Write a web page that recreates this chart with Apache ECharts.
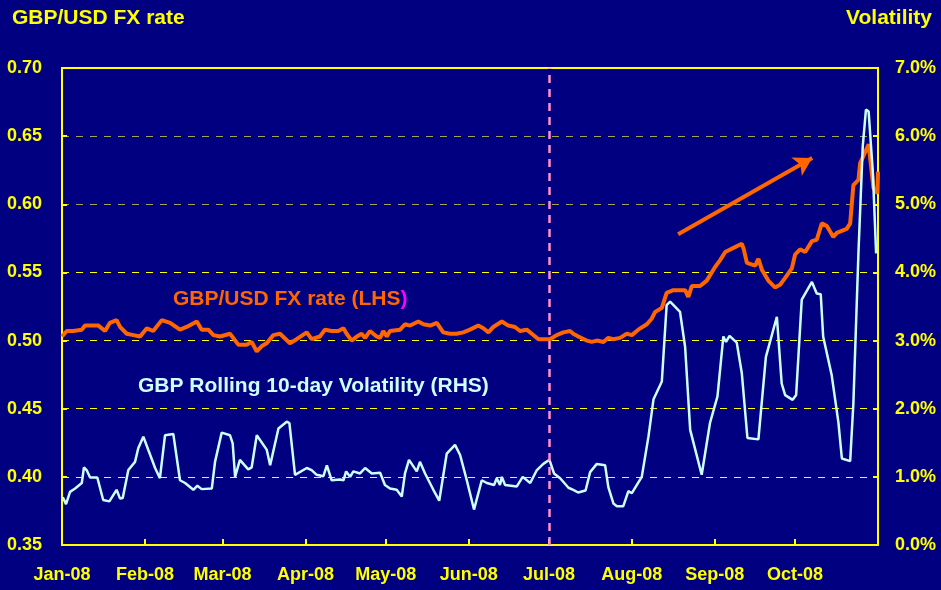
<!DOCTYPE html>
<html>
<head>
<meta charset="utf-8">
<script src="https://cdn.jsdelivr.net/npm/echarts@6.0.0/dist/echarts.min.js"></script>
<style>
html,body{margin:0;padding:0;background:#000080;}
#fxChart{width:941px;height:590px;}
</style>
</head>
<body>
<div id="fxChart"></div>
<script>
// x values are days counted from 1 Jan 2008
var monthStart = [0, 31, 60, 91, 121, 152, 182, 213, 244, 274];
var monthLabels = ['Jan-08', 'Feb-08', 'Mar-08', 'Apr-08', 'May-08', 'Jun-08', 'Jul-08', 'Aug-08', 'Sep-08', 'Oct-08'];

// GBP/USD FX rate (LHS)
var fxDay = [0, 1.8, 4.2, 7.4, 8.6, 11.7, 13.6, 16.1, 17.9, 20.4, 21.7, 24.2, 26.7, 29.2, 31.7, 34.1, 37.3, 40.4, 44.1, 46.6,
  50.4, 52.2, 54.7, 56.6, 59.1, 62.8, 65.9, 69.0, 70.9, 72.8, 74.7, 76.5, 79.0, 81.5, 85.2, 87.7, 91.5, 93.3, 96.4, 98.3,
  100.8, 103.3, 105.2, 106.4, 108.3, 110.2, 112.0, 113.3, 115.1, 117.6, 118.9, 120.1, 121.4, 122.6, 126.4, 128.2, 130.1, 133.2, 135.1, 137.6,
  140.1, 142.5, 145.0, 147.5, 150.0, 152.5, 155.6, 157.5, 159.4, 161.2, 164.4, 166.8, 169.3, 171.2, 173.7, 175.6, 178.1, 179.9, 182.4, 184.9,
  187.4, 189.9, 191.1, 193.0, 196.1, 198.0, 199.9, 202.4, 204.2, 206.1, 208.6, 211.1, 213.0, 215.4, 218.6, 220.4, 221.7, 224.2, 226.0, 228.5,
  232.9, 234.1, 235.4, 238.5, 241.0, 244.1, 246.0, 247.9, 251.0, 254.1, 254.7, 256.0, 259.1, 260.3, 261.6, 264.0, 266.5, 268.4, 270.3, 272.8,
  274.0, 275.9, 277.8, 280.3, 282.1, 284.0, 285.9, 288.3, 289.6, 293.3, 294.6, 295.8, 297.7, 298.3, 301.5, 303.3, 304.8, 305];
var fxRate = [0.503, 0.507, 0.507, 0.508, 0.511, 0.511, 0.511, 0.507, 0.513, 0.515, 0.510, 0.505, 0.504, 0.503, 0.509, 0.507, 0.515, 0.513, 0.508, 0.510,
  0.514, 0.508, 0.508, 0.504, 0.503, 0.505, 0.497, 0.497, 0.499, 0.492, 0.496, 0.498, 0.504, 0.505, 0.498, 0.501, 0.506, 0.501, 0.503, 0.508,
  0.507, 0.507, 0.509, 0.505, 0.500, 0.503, 0.505, 0.502, 0.507, 0.503, 0.502, 0.507, 0.503, 0.507, 0.508, 0.512, 0.511, 0.514, 0.512, 0.511,
  0.513, 0.506, 0.505, 0.505, 0.506, 0.508, 0.511, 0.509, 0.506, 0.510, 0.514, 0.511, 0.510, 0.507, 0.508, 0.505, 0.501, 0.501, 0.501, 0.504,
  0.506, 0.507, 0.505, 0.503, 0.500, 0.499, 0.500, 0.499, 0.502, 0.501, 0.502, 0.505, 0.504, 0.508, 0.512, 0.516, 0.521, 0.524, 0.535, 0.537,
  0.537, 0.532, 0.540, 0.540, 0.544, 0.554, 0.559, 0.565, 0.568, 0.571, 0.568, 0.557, 0.555, 0.560, 0.552, 0.544, 0.539, 0.541, 0.546, 0.553,
  0.563, 0.567, 0.565, 0.573, 0.574, 0.586, 0.584, 0.576, 0.579, 0.582, 0.586, 0.614, 0.618, 0.630, 0.644, 0.612, 0.608, 0.624];

// GBP rolling 10-day volatility, % (RHS)
var volDay = [0.3, 1.5, 3.0, 4.9, 7.4, 8.2, 9.2, 10.5, 13.2, 15.4, 17.7, 20.4, 21.7, 22.7, 24.8, 27.3, 28.5, 30.4, 32.3, 34.8,
  36.6, 38.5, 41.6, 44.1, 46.0, 49.1, 50.6, 52.2, 56.0, 57.2, 59.7, 62.8, 63.8, 64.7, 66.5, 69.6, 70.9, 72.8, 76.5, 77.8,
  80.9, 84.0, 85.0, 87.1, 91.5, 93.3, 95.2, 97.7, 99.0, 100.8, 103.9, 105.2, 106.2, 107.7, 108.9, 111.4, 113.3, 115.8, 118.9, 120.7,
  122.6, 125.1, 127.0, 128.2, 129.7, 132.6, 133.8, 135.7, 138.8, 141.0, 143.8, 146.9, 148.8, 151.3, 154.0, 156.9, 158.8, 161.5, 162.5, 163.7,
  164.4, 165.6, 170.0, 172.2, 175.0, 177.5, 179.9, 182.2, 183.9, 186.2, 189.3, 191.1, 192.9, 195.7, 197.4, 199.9, 203.0, 204.2, 206.1, 207.4,
  209.8, 211.7, 213.0, 216.7, 219.2, 221.1, 224.2, 226.0, 227.3, 231.0, 232.9, 234.8, 239.1, 242.2, 245.0, 247.2, 248.2, 249.5, 252.2, 254.1,
  256.2, 260.3, 263.1, 267.2, 269.0, 270.3, 273.1, 274.4, 276.5, 280.3, 282.1, 283.6, 284.5, 287.7, 290.2, 291.5, 294.6, 295.8, 297.7, 299.3,
  300.5, 301.5, 303.1, 304.3];
var volPct = [0.70, 0.60, 0.78, 0.83, 0.91, 1.14, 1.10, 0.99, 0.99, 0.66, 0.64, 0.81, 0.68, 0.69, 1.10, 1.22, 1.42, 1.59, 1.39, 1.13,
  0.98, 1.61, 1.63, 0.95, 0.91, 0.81, 0.87, 0.82, 0.83, 1.22, 1.65, 1.61, 1.49, 1.00, 1.25, 1.11, 1.14, 1.61, 1.40, 1.17,
  1.71, 1.81, 1.79, 1.03, 1.13, 1.10, 1.03, 1.01, 1.17, 0.95, 0.96, 0.95, 1.08, 1.00, 1.08, 1.05, 1.13, 1.05, 1.06, 0.88,
  0.83, 0.81, 0.71, 1.05, 1.25, 1.08, 1.22, 1.05, 0.81, 0.65, 1.34, 1.47, 1.32, 0.95, 0.52, 0.95, 0.91, 0.88, 0.98, 0.88,
  1.00, 0.88, 0.86, 1.00, 0.91, 1.10, 1.19, 1.25, 1.05, 0.98, 0.84, 0.81, 0.77, 0.80, 1.07, 1.19, 1.17, 0.85, 0.61, 0.57,
  0.57, 0.79, 0.76, 1.00, 1.59, 2.14, 2.40, 3.52, 3.57, 3.42, 2.91, 1.69, 1.03, 1.79, 2.18, 3.06, 2.98, 3.07, 2.97, 2.52,
  1.57, 1.55, 2.76, 3.35, 2.37, 2.20, 2.13, 2.20, 3.60, 3.86, 3.69, 3.68, 3.06, 2.49, 1.80, 1.27, 1.23, 2.08, 4.30, 5.85,
  6.39, 6.36, 5.45, 4.28];

// vertical marker and trend arrow
var markerDay = 182;
var arrowFrom = [230.3, 0.578];
var arrowTo = [280.4, 0.634];

var fxData = [];
for (var i = 0; i < fxDay.length; i++) { fxData.push([fxDay[i], fxRate[i]]); }
var volData = [];
for (var j = 0; j < volDay.length; j++) { volData.push([volDay[j], volPct[j]]); }

var yellow = '#ffff00';
var fnt = 'Liberation Sans, Arial, sans-serif';

var option = {
  backgroundColor: '#000080',
  animation: false,
  textStyle: { fontFamily: fnt },
  grid: { left: 62, right: 63, top: 68, bottom: 45, show: true, borderColor: yellow, borderWidth: 2 },
  graphic: [
    { type: 'text', left: 12, top: 8, style: { text: 'GBP/USD FX rate', fill: yellow, font: 'bold 21px ' + fnt } },
    { type: 'text', right: 9, top: 8, style: { text: 'Volatility', fill: yellow, font: 'bold 21px ' + fnt } },
    { type: 'text', left: 173, top: 289, z: 10,
      style: { text: '{a|GBP/USD FX rate (LHS}{b|)}', font: 'bold 21px ' + fnt,
        rich: { a: { fill: '#ff6600', font: 'bold 21px ' + fnt }, b: { fill: '#ff00ff', font: 'bold 21px ' + fnt } } } },
    { type: 'text', left: 138, top: 376, z: 10,
      style: { text: 'GBP Rolling 10-day Volatility (RHS)', fill: '#ccffff', font: 'bold 21px ' + fnt } }
  ],
  xAxis: {
    type: 'value', min: 0, max: 305,
    axisLine: { lineStyle: { color: yellow, width: 2 } },
    axisTick: { inside: true, length: 6, customValues: monthStart, lineStyle: { color: yellow, width: 2 } },
    axisLabel: {
      customValues: monthStart, color: yellow, fontSize: 18, fontWeight: 'bold', margin: 21,
      formatter: function (v) { var k = monthStart.indexOf(Math.round(v)); return k >= 0 ? monthLabels[k] : ''; }
    },
    splitLine: { show: false }
  },
  yAxis: [
    {
      type: 'value', min: 0.35, max: 0.70, interval: 0.05,
      axisLine: { show: true, lineStyle: { color: yellow, width: 2 } },
      axisTick: { show: true, inside: true, length: 5, lineStyle: { color: yellow, width: 2 } },
      axisLabel: { color: yellow, fontSize: 18, fontWeight: 'bold', margin: 20,
        formatter: function (v) { return v.toFixed(2); } },
      splitLine: { show: true, lineStyle: { type: [7, 7], width: 1,
        color: [yellow, yellow, yellow, yellow, yellow, '#a3a35c', '#a3a35c', yellow] } }
    },
    {
      type: 'value', min: 0, max: 7, interval: 1, position: 'right',
      axisLine: { show: true, lineStyle: { color: yellow, width: 2 } },
      axisTick: { show: true, inside: true, length: 5, lineStyle: { color: yellow, width: 2 } },
      axisLabel: { color: yellow, fontSize: 18, fontWeight: 'bold', margin: 17,
        formatter: function (v) { return v.toFixed(1) + '%'; } },
      splitLine: { show: false }
    }
  ],
  series: [
    {
      name: 'GBP/USD FX rate (LHS)', type: 'line', yAxisIndex: 0, data: fxData,
      showSymbol: false, lineStyle: { color: '#ff6600', width: 4 },
      markLine: {
        silent: true, animation: false,
        data: [
          [{ coord: arrowFrom, symbol: 'none' }, { coord: arrowTo, symbol: 'arrow', symbolSize: [16, 18] }]
        ],
        lineStyle: { color: '#ff6600', width: 4, type: 'solid' },
        label: { show: false }
      }
    },
    {
      name: 'GBP Rolling 10-day Volatility (RHS)', type: 'line', yAxisIndex: 1, data: volData,
      showSymbol: false, lineStyle: { color: '#ccffff', width: 2.5 },
      markLine: {
        silent: true, animation: false, symbol: 'none',
        data: [{ xAxis: markerDay }],
        lineStyle: { color: '#ff8fc8', width: 2.5, type: [8, 6] },
        label: { show: false }
      }
    }
  ]
};

var chart = echarts.init(document.getElementById('fxChart'));
chart.setOption(option);
</script>
</body>
</html>
